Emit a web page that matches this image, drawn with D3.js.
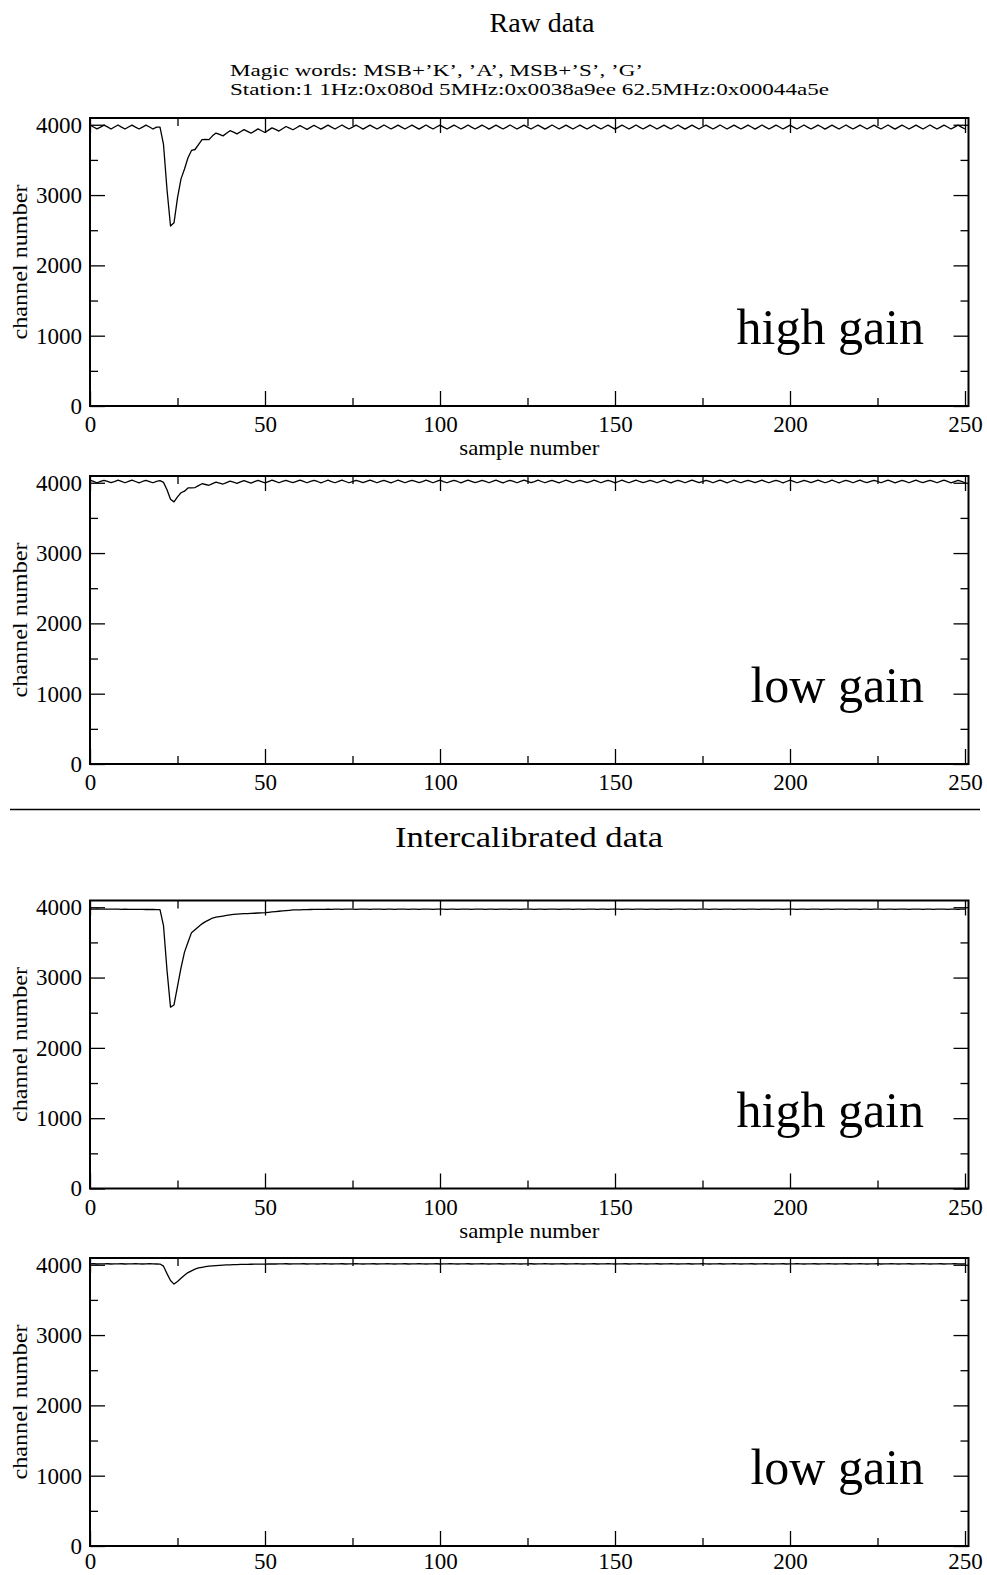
<!DOCTYPE html>
<html><head><meta charset="utf-8">
<script src="https://cdn.jsdelivr.net/npm/d3@7/dist/d3.min.js"></script>
<style>body{margin:0;background:#fff}svg text{font-family:"Liberation Serif","Times New Roman",serif;fill:#000}</style>
</head><body>
<svg id="c" width="987" height="1575"></svg>
<script>
const titleTop = "Raw data";
const titleBottom = "Intercalibrated data";
const subtitleLines = ["Magic words: MSB+\u2019K\u2019, \u2019A\u2019, MSB+\u2019S\u2019, \u2019G\u2019",
                       "Station:1 1Hz:0x080d 5MHz:0x0038a9ee 62.5MHz:0x00044a5e"];
const xLabel = "sample number";
const yLabel = "channel number";
const gainLabels = ["high gain", "low gain", "high gain", "low gain"];
const xMajorTicks = [0, 50, 100, 150, 200, 250];
const xMinorTicks = [25, 75, 125, 175, 225];
const yMajorTicks = [0, 1000, 2000, 3000, 4000];
const yMinorTicks = [500, 1500, 2500, 3500];

const rawHigh = [
3996,3968,3941,3967,3995,3969,3940,3968,3997,3967,3939,3968,3995,3966,3940,3967,3994,3968,3939,3967,
3965,3720,3080,2560,2605,2960,3230,3370,3530,3634,3648,3718,3787,3791,3788,3842,3882,3862,3842,3879,
3915,3895,3870,3900,3931,3905,3880,3910,3941,3915,3890,3923,3956,3933,3910,3942,3975,3952,3929,3958,
3987,3961,3934,3963,3992,3965,3938,3967,3995,3966,3939,3968,3996,3967,3940,3966,3994,3968,3938,3967,
3995,3966,3939,3967,3996,3968,3940,3967,3994,3967,3939,3968,3995,3966,3938,3967,3996,3967,3940,3968,
3995,3967,3939,3966,3994,3968,3940,3967,3996,3966,3939,3967,3995,3968,3938,3967,3994,3967,3940,3966,
3996,3968,3939,3967,3995,3966,3940,3968,3994,3967,3938,3967,3996,3968,3939,3966,3995,3967,3940,3968,
3994,3966,3939,3967,3996,3967,3940,3968,3995,3966,3938,3967,3994,3968,3939,3967,3996,3966,3940,3967,
3995,3968,3939,3966,3994,3967,3940,3968,3996,3967,3938,3967,3995,3966,3939,3968,3994,3967,3940,3966,
3996,3968,3939,3967,3995,3966,3940,3967,3994,3968,3938,3967,3996,3967,3939,3966,3995,3968,3940,3967,
3994,3966,3939,3968,3996,3967,3940,3967,3995,3968,3938,3966,3994,3967,3939,3968,3996,3966,3940,3967,
3995,3968,3939,3967,3994,3966,3940,3968,3996,3967,3938,3967,3995,3968,3939,3966,3994,3967,3940,3968,
3996,3966,3939,3967,3995,3968,3940,3967,3994,3967,3939];

const rawLow = [
4036,4018,4000,4018,4035,4019,4001,4017,4036,4018,4000,4018,4037,4018,3999,4018,4035,4017,4000,4019,
4030,4005,3900,3765,3728,3800,3858,3880,3926,3926,3932,3960,3986,3975,3964,3988,4010,3996,3982,4003,
4024,4008,3992,4011,4030,4013,3996,4015,4034,4016,3999,4017,4036,4018,4000,4018,4035,4017,4001,4018,
4036,4018,4000,4019,4035,4018,3999,4018,4036,4017,4000,4018,4037,4018,4000,4017,4035,4019,4001,4018,
4036,4018,4000,4018,4035,4017,3999,4018,4036,4019,4000,4018,4035,4018,4001,4017,4036,4018,4000,4018,
4037,4017,4000,4018,4035,4018,3999,4019,4036,4018,4001,4017,4035,4018,4000,4018,4036,4017,3999,4018,
4035,4019,4000,4018,4036,4018,4001,4017,4037,4018,4000,4018,4035,4017,3999,4018,4036,4018,4000,4019,
4035,4018,4001,4017,4036,4018,4000,4018,4035,4019,3999,4018,4036,4017,4000,4018,4037,4018,4001,4017,
4035,4018,4000,4018,4036,4017,3999,4019,4035,4018,4000,4018,4036,4018,4001,4017,4035,4019,4000,4018,
4036,4018,3999,4018,4037,4017,4000,4018,4035,4018,4001,4019,4036,4017,4000,4018,4035,4018,3999,4018,
4036,4019,4000,4017,4035,4018,4001,4018,4036,4018,4000,4017,4037,4018,3999,4018,4035,4019,4000,4018,
4036,4017,4001,4018,4035,4018,4000,4019,4036,4018,3999,4017,4035,4018,4000,4018,4036,4017,4001,4018,
4035,4019,4000,4018,4036,4018,3999,4017,4035,4018,4000];

const calHigh = [
3975,3974,3976,3974,3973,3974,3972,3973,3972,3971,3972,3970,3971,3970,3969,3970,3968,3969,3968,3967,
3966,3740,3104,2580,2610,2873,3137,3362,3501,3639,3681,3723,3764,3796,3821,3847,3859,3867,3875,3884,
3892,3900,3903,3905,3908,3910,3913,3915,3918,3920,3923,3928,3933,3938,3943,3947,3952,3957,3962,3963,
3964,3966,3967,3968,3969,3970,3971,3971,3972,3971,3973,3972,3971,3972,3973,3972,3971,3972,3973,3972,
3971,3972,3973,3972,3971,3973,3972,3971,3972,3973,3972,3971,3972,3973,3971,3972,3973,3972,3971,3972,
3973,3972,3971,3972,3973,3971,3972,3973,3972,3971,3972,3973,3972,3971,3973,3972,3971,3972,3973,3972,
3971,3972,3973,3971,3972,3973,3972,3971,3972,3973,3971,3972,3973,3972,3971,3972,3973,3972,3971,3973,
3972,3971,3972,3973,3972,3971,3973,3972,3971,3972,3973,3972,3971,3972,3973,3971,3972,3973,3972,3971,
3972,3973,3971,3972,3973,3972,3971,3972,3973,3972,3971,3973,3972,3971,3972,3973,3972,3971,3972,3973,
3971,3972,3973,3972,3971,3972,3973,3971,3972,3973,3972,3971,3972,3973,3972,3971,3973,3972,3971,3972,
3973,3972,3971,3972,3973,3971,3972,3973,3972,3971,3972,3973,3971,3972,3973,3972,3971,3972,3973,3972,
3971,3973,3972,3971,3972,3973,3972,3971,3972,3973,3971,3972,3973,3972,3971,3972,3973,3972,3971,3973,
3972,3971,3972,3973,3972,3971,3972,3973,3971,3972,3973];

const calLow = [
4012,4014,4011,4013,4012,4014,4011,4012,4013,4014,4011,4012,4013,4014,4012,4011,4013,4014,4012,4011,
4010,3980,3874,3775,3725,3762,3807,3852,3889,3914,3938,3954,3963,3972,3980,3985,3988,3991,3994,3997,
3999,4001,4003,4004,4005,4006,4007,4008,4009,4010,4010,4011,4012,4011,4013,4012,4014,4011,4012,4013,
4012,4014,4011,4013,4012,4011,4013,4014,4012,4011,4013,4012,4014,4011,4012,4013,4014,4012,4011,4013,
4012,4014,4011,4012,4013,4014,4012,4011,4013,4012,4014,4011,4012,4013,4014,4012,4011,4013,4012,4014,
4011,4012,4013,4014,4012,4011,4013,4012,4014,4011,4012,4013,4014,4012,4011,4013,4012,4014,4011,4012,
4013,4014,4012,4011,4013,4012,4014,4011,4012,4013,4014,4012,4011,4013,4012,4014,4011,4012,4013,4014,
4012,4011,4013,4012,4014,4011,4012,4013,4014,4012,4011,4013,4012,4014,4011,4012,4013,4014,4012,4011,
4013,4012,4014,4011,4012,4013,4014,4012,4011,4013,4012,4014,4011,4012,4013,4014,4012,4011,4013,4012,
4014,4011,4012,4013,4014,4012,4011,4013,4012,4014,4011,4012,4013,4014,4012,4011,4013,4012,4014,4011,
4012,4013,4014,4012,4011,4013,4012,4014,4011,4012,4013,4014,4012,4011,4013,4012,4014,4011,4012,4013,
4014,4012,4011,4013,4012,4014,4011,4012,4013,4014,4012,4011,4013,4012,4014,4011,4012,4013,4014,4012,
4011,4013,4012,4014,4011,4012,4013,4014,4012,4011,4013];

const svg = d3.select("#c");
const left = 90, right = 968.5, ph = 288;
const panels = [
  {data: rawHigh, top: 118,   label: gainLabels[0], xtitle: true,  labelGap: 10},
  {data: rawLow,  top: 476,   label: gainLabels[1], xtitle: false, labelGap: 10},
  {data: calHigh, top: 900.5, label: gainLabels[2], xtitle: true,  labelGap: 10},
  {data: calLow,  top: 1258,  label: gainLabels[3], xtitle: false, labelGap: 7}
];

const x = d3.scaleLinear().domain([0, 251]).range([left, right]);

svg.append("text").attr("x", 542).attr("y", 32).attr("text-anchor", "middle")
  .attr("font-size", 28).text(titleTop);
const subW = [413, 599];
subtitleLines.forEach((t, i) => {
  svg.append("text").attr("x", 230).attr("y", 76 + i * 19).attr("font-size", 16)
    .attr("textLength", subW[i]).attr("lengthAdjust", "spacingAndGlyphs").text(t);
});
svg.append("line").attr("x1", 10).attr("x2", 980).attr("y1", 809.5).attr("y2", 809.5)
  .attr("stroke", "#000").attr("stroke-width", 1.5);
svg.append("text").attr("x", 529).attr("y", 847).attr("text-anchor", "middle")
  .attr("font-size", 30).attr("textLength", 268).attr("lengthAdjust", "spacingAndGlyphs").text(titleBottom);

panels.forEach(p => {
  const bottom = p.top + ph;
  const y = d3.scaleLinear().domain([0, 4096]).range([bottom, p.top]);
  const g = svg.append("g");

  const addAxis = (axis, tx, ty) => {
    const a = g.append("g").attr("transform", `translate(${tx},${ty})`).call(axis);
    a.select(".domain").remove();
    a.selectAll("line").attr("stroke", "#000").attr("stroke-width", 1.3);
    a.selectAll("text").attr("font-family", null).attr("fill", "#000");
    return a;
  };
  const bx = addAxis(d3.axisBottom(x).tickValues(xMajorTicks).tickSize(-15).tickPadding(10).tickFormat(d3.format("d")), 0, bottom);
  bx.selectAll("text").attr("font-size", 23).attr("dy", "0.71em").attr("y", p.labelGap);
  addAxis(d3.axisBottom(x).tickValues(xMinorTicks).tickSize(-8).tickFormat(""), 0, bottom);
  addAxis(d3.axisTop(x).tickValues(xMajorTicks).tickSize(-15).tickFormat(""), 0, p.top);
  addAxis(d3.axisTop(x).tickValues(xMinorTicks).tickSize(-8).tickFormat(""), 0, p.top);
  const ly = addAxis(d3.axisLeft(y).tickValues(yMajorTicks).tickSize(-15).tickPadding(9).tickFormat(d3.format("d")), left, 0);
  ly.selectAll("text").attr("font-size", 23).attr("x", -8);
  addAxis(d3.axisLeft(y).tickValues(yMinorTicks).tickSize(-8).tickFormat(""), left, 0);
  addAxis(d3.axisRight(y).tickValues(yMajorTicks).tickSize(-15).tickFormat(""), right, 0);
  addAxis(d3.axisRight(y).tickValues(yMinorTicks).tickSize(-8).tickFormat(""), right, 0);

  g.append("rect").attr("x", left).attr("y", p.top).attr("width", right - left).attr("height", ph)
    .attr("fill", "none").attr("stroke", "#000").attr("stroke-width", 2);

  const line = d3.line().x((d, i) => x(i)).y(d => y(d));
  g.append("path").datum(p.data).attr("d", line).attr("fill", "none")
    .attr("stroke", "#000").attr("stroke-width", 1.3).attr("stroke-linejoin", "round");

  g.append("text").attr("transform", `translate(27,${(p.top + bottom) / 2}) rotate(-90)`)
    .attr("text-anchor", "middle").attr("font-size", 21).attr("textLength", 155)
    .attr("lengthAdjust", "spacingAndGlyphs").text(yLabel);
  if (p.xtitle) {
    g.append("text").attr("x", (left + right) / 2).attr("y", bottom + 49).attr("text-anchor", "middle")
      .attr("font-size", 21).attr("textLength", 140).attr("lengthAdjust", "spacingAndGlyphs").text(xLabel);
  }
  g.append("text").attr("x", 924).attr("y", bottom - 62).attr("text-anchor", "end")
    .attr("font-size", 50).text(p.label);
});
</script>
</body></html>
